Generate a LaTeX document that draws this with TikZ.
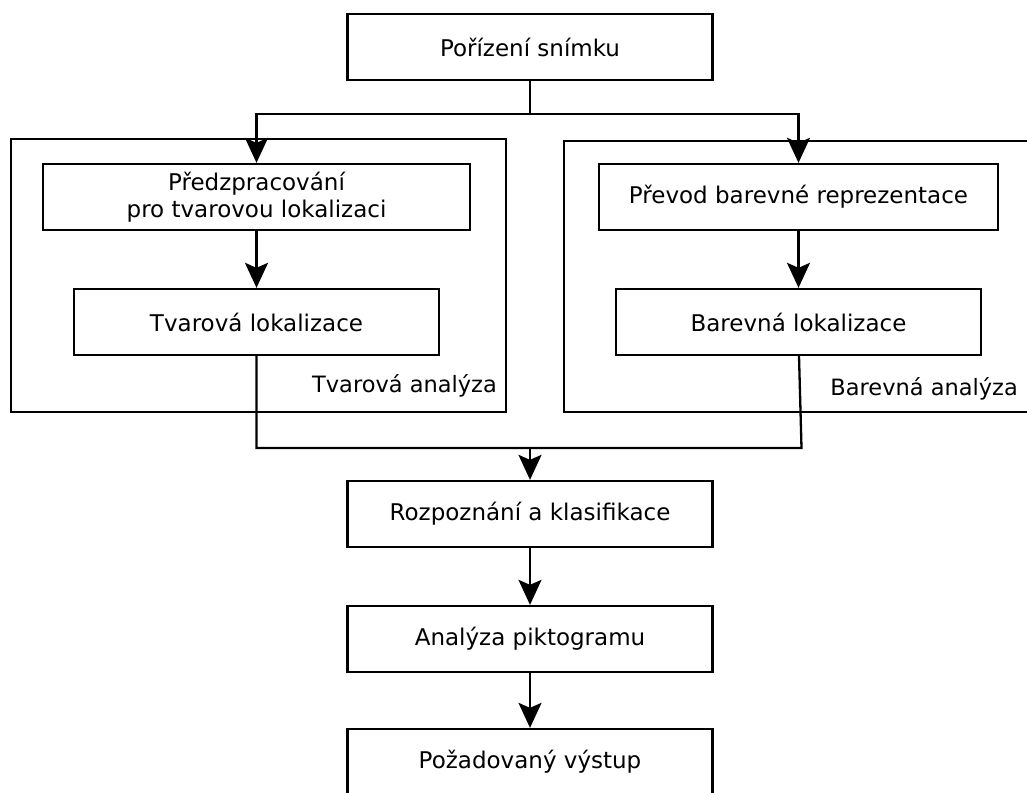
\documentclass[tikz,border=0pt]{standalone}
\usepackage{fontspec}
\setmainfont{DejaVu Sans}
\usetikzlibrary{arrows.meta}
\begin{document}
\begin{tikzpicture}[x=1pt,y=-1pt,
  box/.style={draw,line width=2.3pt,minimum height=66pt,inner sep=0pt,
    font=\fontsize{23}{27}\selectfont,align=center},
  group/.style={draw,line width=2.3pt},
  grouplabel/.style={inner sep=0pt,font=\fontsize{22.5}{27}\selectfont},
  flow/.style={line width=2.3pt,-{Stealth[length=25pt,width=23pt,inset=5pt]}},
  link/.style={line width=2.3pt}]
\useasboundingbox (0,0) rectangle (1027,792);

% analysis groups
\draw[group] (11,139) rectangle (506,412);
\draw[group] (1040,141) -- (564,141) -- (564,412) -- (1040,412);
\node[grouplabel,anchor=base east] (tlab) at (497,392) {Tvarová analýza};
\node[grouplabel,anchor=base east] (blab) at (1018,395) {Barevná analýza};

% process steps
\node[box,minimum width=365pt] (snap) at (530,47) {Pořízení snímku};
\node[box,minimum width=427pt] (pre) at (256.5,197) {Předzpracování\\pro tvarovou lokalizaci};
\node[box,minimum width=365pt] (tloc) at (256.5,322) {Tvarová lokalizace};
\node[box,minimum width=399pt] (conv) at (798.5,197) {Převod barevné reprezentace};
\node[box,minimum width=365pt] (bloc) at (798.5,322) {Barevná lokalizace};
\node[box,minimum width=365pt] (rec) at (530,514) {Rozpoznání a klasifikace};
\node[box,minimum width=365pt] (pict) at (530,639) {Analýza piktogramu};
\node[box,minimum width=365pt] (out) at (530,762) {Požadovaný výstup};

% split and merge points
\coordinate (split) at (530,114);
\coordinate (tjoin) at (256.5,448);
\coordinate (bjoin) at (801.5,448);
\coordinate (merge) at (530,448);

% connectors
\draw[link] (snap.south) -- (split);
\draw[flow] (split) -| (pre.north);
\draw[flow] (split) -| (conv.north);
\draw[flow] (pre) -- (tloc);
\draw[flow] (conv) -- (bloc);
\draw[link] (tloc.south) -- (tjoin) -- (bjoin) -- ([xshift=0.5pt]bloc.south);
\draw[flow] (merge) -- (rec.north);
\draw[flow] (rec) -- (pict);
\draw[flow] (pict) -- (out);
\end{tikzpicture}
\end{document}
